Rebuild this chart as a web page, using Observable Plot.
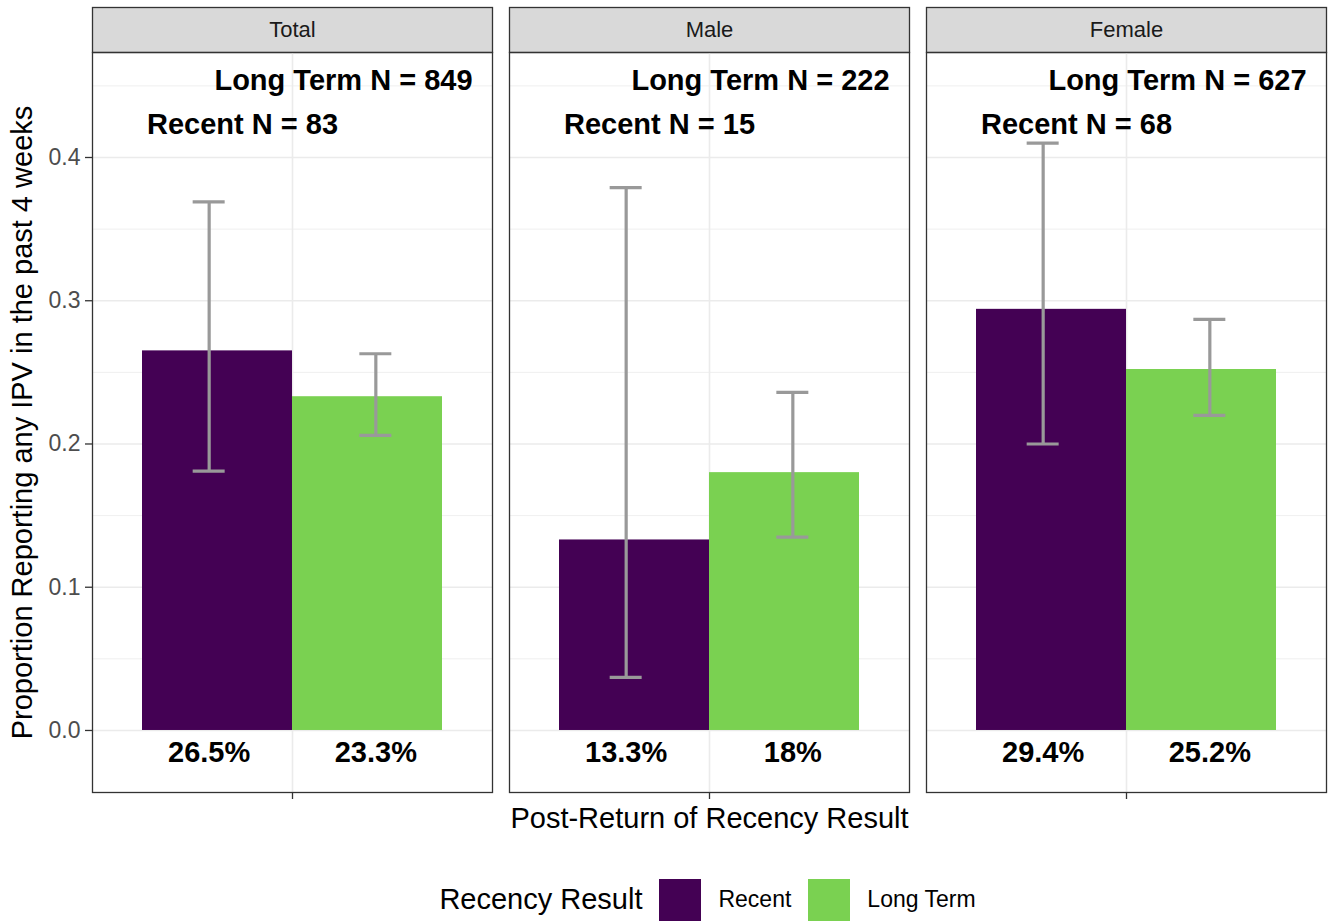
<!DOCTYPE html>
<html>
<head>
<meta charset="utf-8">
<script src="https://cdn.jsdelivr.net/npm/d3@7"></script>
<script src="https://cdn.jsdelivr.net/npm/@observablehq/plot@0.6"></script>
<style>
  html, body { margin: 0; padding: 0; background: #ffffff; }
  body { font-family: "Liberation Sans", Arial, Helvetica, sans-serif; width: 1330px; }
  #legend { display: flex; align-items: center; justify-content: center; margin-left: 99px; width: 1234px; height: 51px; margin-top: 4px; }
  #legend .title { font-size: 29px; color: #000; margin-right: 17px; }
  #legend .key { width: 42px; height: 42px; display: inline-block; }
  #legend .lab { font-size: 23px; color: #000; margin: 0 17px 0 17px; }
</style>
</head>
<body>
<div id="chart"></div>
<div id="legend"></div>
<script>
// ---- data ----
const panels = ["Total", "Male", "Female"];
const groups = ["Recent", "Long Term"];
const groupColors = ["#440154", "#7AD151"];

const recentValues   = [0.265, 0.133, 0.294];
const recentLower    = [0.181, 0.037, 0.200];
const recentUpper    = [0.369, 0.379, 0.410];
const longTermValues = [0.233, 0.180, 0.252];
const longTermLower  = [0.206, 0.135, 0.220];
const longTermUpper  = [0.263, 0.236, 0.287];

const recentLabels   = ["26.5%", "13.3%", "29.4%"];
const longTermLabels = ["23.3%", "18%", "25.2%"];

const recentN   = [83, 15, 68];
const longTermN = [849, 222, 627];

const yTicks = [0, 0.1, 0.2, 0.3, 0.4];
const yMinorTicks = [0.05, 0.15, 0.25, 0.35, 0.45];

const yTitle = "Proportion Reporting any IPV in the past 4 weeks";
const xTitle = "Post-Return of Recency Result";
const legendTitle = "Recency Result";

// ---- build table ----
// x layout on a continuous scale like ggplot's discrete axis (single category at 1)
const barHalf = 0.225;     // each dodged bar is 0.45 wide
const errOffset = 0.25;    // error bars / labels dodged by 0.5
const capHalf = 0.048;

const rows = [];
panels.forEach((p, i) => {
  rows.push({panel: p, group: "Recent", side: -1, value: recentValues[i], lo: recentLower[i], hi: recentUpper[i], label: recentLabels[i]});
  rows.push({panel: p, group: "Long Term", side: 1, value: longTermValues[i], lo: longTermLower[i], hi: longTermUpper[i], label: longTermLabels[i]});
});
const nRows = panels.map((p, i) => ({panel: p, recent: recentN[i], longTerm: longTermN[i]}));

const font = '"Liberation Sans", Arial, Helvetica, sans-serif';

const chart = Plot.plot({
  width: 1330,
  height: 870,
  marginLeft: 92,
  marginRight: 4,
  marginTop: 52,
  marginBottom: 78,
  style: {fontFamily: font, background: "#ffffff", overflow: "visible"},
  fx: {domain: panels, paddingInner: 0.0408, paddingOuter: 0, label: null, axis: null},
  x: {domain: [0.4, 1.6], axis: null},
  y: {domain: [-0.0433, 0.4733], axis: null},
  color: {domain: groups, range: groupColors},
  marks: [
    // strip backgrounds
    Plot.frame({fill: "#d9d9d9", stroke: "#333333", strokeWidth: 1.3, insetTop: -45, insetBottom: 740}),
    Plot.text(panels, {fx: d => d, text: d => d, frameAnchor: "top", dy: -22.5, fontSize: 22, fill: "#1a1a1a", lineAnchor: "middle"}),
    // grid
    Plot.ruleY(yMinorTicks, {y: d => d, stroke: "#ebebeb", strokeWidth: 0.8}),
    Plot.ruleY(yTicks, {y: d => d, stroke: "#ebebeb", strokeWidth: 1.6}),
    Plot.ruleX([1], {x: d => d, stroke: "#ebebeb", strokeWidth: 1.6}),
    // bars
    Plot.rectY(rows, {fx: "panel", x1: d => 1 + (d.side < 0 ? -2 * barHalf : 0), x2: d => 1 + (d.side < 0 ? 0 : 2 * barHalf), y1: 0, y2: "value", fill: "group"}),
    // error bars
    Plot.ruleX(rows, {fx: "panel", x: d => 1 + d.side * errOffset, y1: "lo", y2: "hi", stroke: "#999999", strokeWidth: 3.2}),
    Plot.ruleY(rows, {fx: "panel", y: "hi", x1: d => 1 + d.side * errOffset - capHalf, x2: d => 1 + d.side * errOffset + capHalf, stroke: "#999999", strokeWidth: 3.2}),
    Plot.ruleY(rows, {fx: "panel", y: "lo", x1: d => 1 + d.side * errOffset - capHalf, x2: d => 1 + d.side * errOffset + capHalf, stroke: "#999999", strokeWidth: 3.2}),
    // percentage labels under bars
    Plot.text(rows, {fx: "panel", x: d => 1 + d.side * errOffset, y: -0.0155, text: "label", fontSize: 29, fontWeight: "bold", fill: "#000000"}),
    // N annotations
    Plot.text(nRows, {fx: "panel", x: 1.153, y: 0.4537, text: d => `Long Term N = ${d.longTerm}`, fontSize: 29, fontWeight: "bold", fill: "#000000"}),
    Plot.text(nRows, {fx: "panel", x: 0.85, y: 0.423, text: d => `Recent N = ${d.recent}`, fontSize: 29, fontWeight: "bold", fill: "#000000"}),
    // panel borders
    Plot.frame({stroke: "#333333", strokeWidth: 1.3}),
    // y axis
    Plot.axisY(yTicks, {anchor: "left", tickSize: 7, tickPadding: 5, tickFormat: d3.format(".1f"), fontSize: 23, stroke: "#333333", fill: "#4d4d4d", strokeWidth: 1.3, label: null}),
    Plot.text([yTitle], {fx: () => "Total", text: d => d, frameAnchor: "left", textAnchor: "middle", rotate: -90, dx: -70, fontSize: 29, fill: "#000000"}),
    // x (facet) ticks and title
    Plot.axisFx({anchor: "bottom", tickSize: 7, tickFormat: () => "", stroke: "#333333", strokeWidth: 1.3, label: null}),
    Plot.text([xTitle], {fx: () => "Male", text: d => d, frameAnchor: "bottom", dy: 26, lineAnchor: "middle", fontSize: 29, fill: "#000000"})
  ]
});

document.getElementById("chart").appendChild(chart);

// legend
const legend = document.getElementById("legend");
const t = document.createElement("span");
t.className = "title";
t.textContent = legendTitle;
legend.appendChild(t);
groups.forEach((g, i) => {
  const k = document.createElement("span");
  k.className = "key";
  k.style.background = groupColors[i];
  legend.appendChild(k);
  const l = document.createElement("span");
  l.className = "lab";
  l.textContent = g;
  legend.appendChild(l);
});
</script>
</body>
</html>
